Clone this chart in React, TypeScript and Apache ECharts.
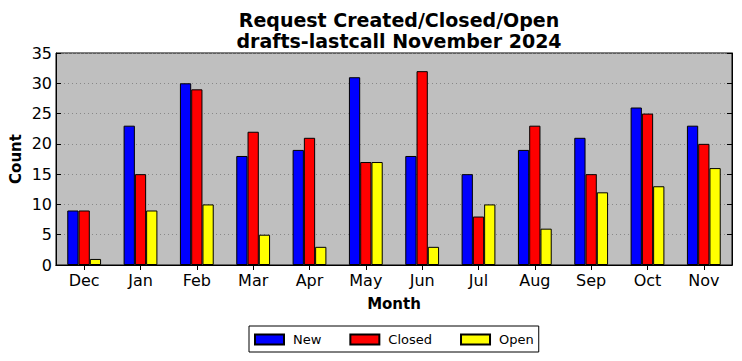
import React, { useEffect, useRef } from "react";
import * as echarts from "echarts";

const months = ["Dec", "Jan", "Feb", "Mar", "Apr", "May", "Jun", "Jul", "Aug", "Sep", "Oct", "Nov"];
const newReq = [9, 23, 30, 18, 19, 31, 18, 15, 19, 21, 26, 23];
const closedReq = [9, 15, 29, 22, 21, 17, 32, 8, 23, 15, 25, 20];
const openReq = [1, 9, 10, 5, 3, 17, 3, 10, 6, 12, 13, 16];
const yTicks = { min: 0, max: 35, interval: 5 };

const FONT = "DejaVu Sans";

export default function App() {
  const ref = useRef<HTMLDivElement>(null);
  useEffect(() => {
    if (!ref.current) return;
    const chart = echarts.init(ref.current, null, { renderer: "svg" });
    const barStyle = (color: string) => ({ color, borderColor: "#000", borderWidth: 1 });
    const mk = (name: string, data: number[], color: string) => ({
      name,
      type: "bar",
      data,
      barWidth: "20%",
      barGap: "0%",
      itemStyle: barStyle(color),
      xAxisIndex: 0,
      yAxisIndex: 0,
    });
    chart.setOption({
      animation: false,
      textStyle: { fontFamily: FONT },
      title: {
        text: "Request Created/Closed/Open\ndrafts-lastcall November 2024",
        left: 394,
        top: 4,
        textAlign: "center",
        textStyle: { fontFamily: FONT, fontSize: 19, fontWeight: "bold", color: "#000", lineHeight: 21 },
      },
      grid: {
        left: 56,
        right: 10,
        top: 53,
        bottom: 96,
        containLabel: false,
        outerBoundsMode: "none",
        show: true,
        backgroundColor: "#bfbfbf",
        borderColor: "#000",
        borderWidth: 1,
      },
      legend: {
        left: 249,
        top: 326,
        orient: "horizontal",
        itemWidth: 29,
        itemHeight: 10,
        itemGap: 28,
        padding: [7, 5, 6, 5],
        borderColor: "#000",
        borderWidth: 1,
        borderRadius: 0,
        icon: "rect",
        textStyle: { fontFamily: FONT, fontSize: 13, color: "#000", padding: [0, 0, 0, 4] },
        data: ["New", "Closed", "Open"],
      },
      xAxis: [
        {
          type: "category",
          data: months,
          position: "bottom",
          name: "Month",
          nameLocation: "middle",
          nameGap: 31,
          nameMoveOverlap: false,
          nameTextStyle: { fontFamily: FONT, fontSize: 15, fontWeight: "bold", color: "#000" },
          axisLine: { show: true, lineStyle: { color: "#000", width: 1 } },
          axisTick: { show: true, inside: true, alignWithLabel: true, length: 5, lineStyle: { color: "#000" } },
          axisLabel: { fontFamily: FONT, fontSize: 16, color: "#000", margin: 7 },
          splitLine: { show: false },
        },
        {
          type: "category",
          data: months,
          position: "top",
          axisLine: { show: true, lineStyle: { color: "#000", width: 1 } },
          axisTick: { show: true, inside: true, alignWithLabel: true, length: 5, lineStyle: { color: "#000" } },
          axisLabel: { show: false },
          splitLine: { show: false },
        },
      ],
      yAxis: [
        {
          type: "value",
          min: yTicks.min,
          max: yTicks.max,
          interval: yTicks.interval,
          position: "left",
          name: "Count",
          nameLocation: "middle",
          nameGap: 33,
          nameMoveOverlap: false,
          nameTextStyle: { fontFamily: FONT, fontSize: 15, fontWeight: "bold", color: "#000" },
          axisLine: { show: true, lineStyle: { color: "#000", width: 1 } },
          axisTick: { show: true, inside: true, length: 5, lineStyle: { color: "#000" } },
          axisLabel: { fontFamily: FONT, fontSize: 16, color: "#000", margin: 4 },
          splitLine: { show: true, lineStyle: { color: "#888", type: [1, 3], width: 1 } },
        },
        {
          type: "value",
          min: yTicks.min,
          max: yTicks.max,
          interval: yTicks.interval,
          position: "right",
          axisLine: { show: true, lineStyle: { color: "#000", width: 1 } },
          axisTick: { show: true, inside: true, length: 5, lineStyle: { color: "#000" } },
          axisLabel: { show: false },
          splitLine: { show: false },
        },
      ],
      series: [mk("New", newReq, "#0000ff"), mk("Closed", closedReq, "#ff0000"), mk("Open", openReq, "#ffff00")],
    });
    return () => chart.dispose();
  }, []);
  return (
    <div
      ref={ref}
      style={{ position: "fixed", left: 0, top: 0, width: 742, height: 361, background: "#fff" }}
    />
  );
}
